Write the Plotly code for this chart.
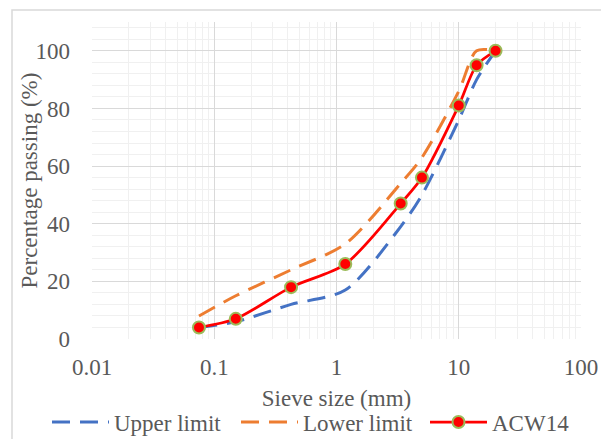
import plotly.graph_objects as go

sieve_mm = [0.075, 0.15, 0.425, 1.18, 3.35, 5, 10, 14, 20]
upper_limit = [4, 6, 12, 17, 39, 50, 76, 90, 100]
lower_limit = [8, 15, 24, 33, 54, 63, 86, 100, 100]
acw14 = [4, 7, 18, 26, 47, 56, 81, 95, 100]

x_ticks = [0.01, 0.1, 1, 10, 100]
x_tick_labels = ["0.01", "0.1", "1", "10", "100"]
y_ticks = [0, 20, 40, 60, 80, 100]

FONT = "Liberation Serif, Times New Roman, serif"
TXT = "#595959"
FS = 23

fig = go.Figure()
fig.add_trace(go.Scatter(
    x=sieve_mm, y=upper_limit, name="Upper limit", mode="lines",
    line=dict(color="#4472C4", width=3, dash="18px,10px", shape="spline", smoothing=0.8),
))
fig.add_trace(go.Scatter(
    x=sieve_mm, y=lower_limit, name="Lower limit", mode="lines",
    line=dict(color="#ED7D31", width=3, dash="18px,10px", shape="spline", smoothing=0.8),
))
fig.add_trace(go.Scatter(
    x=sieve_mm, y=acw14, name="ACW14", mode="lines+markers",
    line=dict(color="#FF0000", width=2.75, shape="spline", smoothing=0.8),
    marker=dict(color="#FF0000", size=12, line=dict(color="#9BBB59", width=2)),
))

fig.update_layout(
    width=601, height=439,
    margin=dict(l=92, r=20, t=22, b=100, autoexpand=False),
    paper_bgcolor="white", plot_bgcolor="white",
    font=dict(family=FONT, size=FS, color=TXT),
    showlegend=True,
    legend=dict(orientation="h", x=(47 - 92) / 489, xanchor="left", y=-0.262, yanchor="middle",
                font=dict(family=FONT, size=FS, color=TXT), itemwidth=57,
                entrywidth=117, entrywidthmode="pixels",
                bgcolor="rgba(0,0,0,0)", tracegroupgap=0),
    shapes=[dict(type="rect", xref="paper", yref="paper",
                 x0=(12 - 92) / 489, x1=1.2, y0=-0.5, y1=1 + 12 / 317,
                 line=dict(color="#D9D9D9", width=1.5), fillcolor="rgba(0,0,0,0)", layer="below")],
    annotations=[dict(text="Percentage passing (%)", xref="paper", yref="paper",
                      x=(29 - 92) / 489, y=0.5, xanchor="center", yanchor="middle",
                      textangle=-90, showarrow=False,
                      font=dict(family=FONT, size=FS, color=TXT))],
)
fig.update_xaxes(
    type="log", range=[-2, 2], tickvals=x_ticks, ticktext=x_tick_labels,
    showgrid=True, gridcolor="#D9D9D9", gridwidth=1,
    minor=dict(showgrid=True, gridcolor="#F0F0F0", gridwidth=1, dtick="D1"),
    showline=False, zeroline=False, ticks="", ticklabelstandoff=12, automargin=False,
    tickfont=dict(family=FONT, size=FS, color=TXT),
    title=dict(text="Sieve size (mm)", font=dict(family=FONT, size=FS, color=TXT), standoff=10),
)
fig.update_yaxes(
    range=[0, 110], tickvals=y_ticks,
    showgrid=True, gridcolor="#D9D9D9", gridwidth=1,
    minor=dict(showgrid=True, gridcolor="#F0F0F0", gridwidth=1, dtick=4),
    showline=False, zeroline=False, ticks="", ticklabelstandoff=21, automargin=False,
    tickfont=dict(family=FONT, size=FS, color=TXT),
)

fig.write_html("out.html", config={"displayModeBar": False},
               post_script="document.body.style.margin='0';")
